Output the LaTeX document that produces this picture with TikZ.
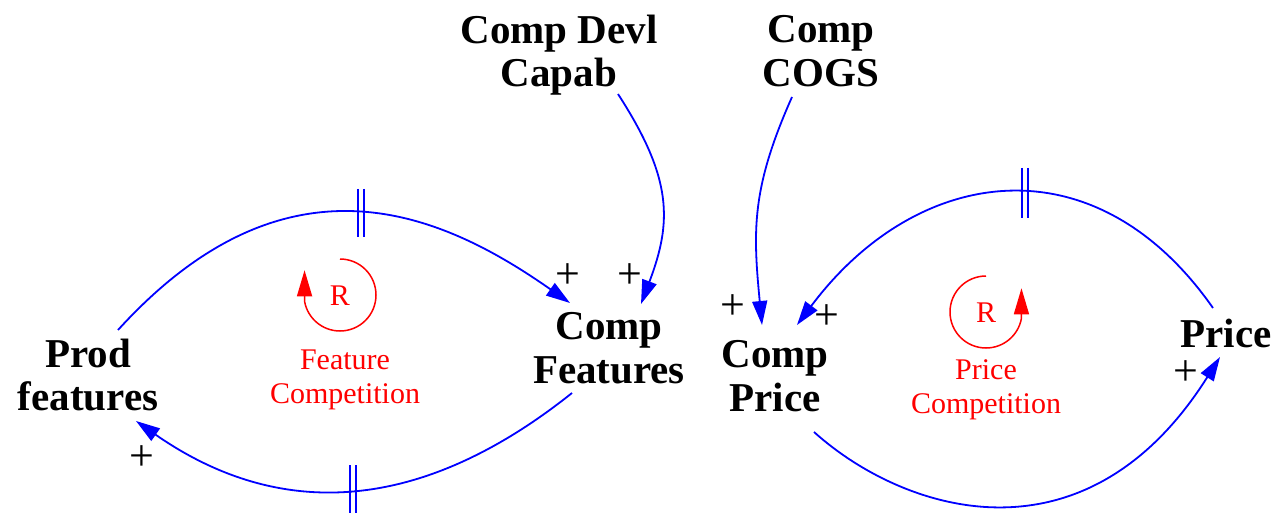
\documentclass[tikz,border=0pt]{standalone}
\usepackage{fontspec}
\setmainfont{Liberation Serif}
\usetikzlibrary{arrows.meta,calc}
\begin{document}
\begin{tikzpicture}[x=1pt,y=-1pt,
  var/.style={font=\fontsize{41}{43.5}\selectfont\bfseries, align=center, inner sep=0pt},
  link/.style={blue, line width=1.8pt, -{Triangle[length=24pt,width=15pt]}},
  delaymark/.style={blue, line width=1.5pt},
  pol/.style={font=\fontsize{44}{46}\selectfont, inner sep=0pt},
  loopname/.style={red, font=\fontsize{30}{34}\selectfont, align=center, inner sep=0pt},
  looparc/.style={red, line width=1.5pt, -{Triangle[length=26pt,width=15pt]}}
]
\useasboundingbox (0,0) rectangle (1280,513);

% variables
\node[var] (devl) at (559,55) {Comp Devl\\Capab};
\node[var] (cogs) at (821,51) {Comp\\COGS};
\node[var] (prod) at (88,375) {Prod\\features};
\node[var] (cf) at (609,348) {Comp\\Features};
\node[var] (cp) at (775,376) {Comp\\Price};
\node[var] (price) at (1226,333) {Price};

% links
\draw[link] ($(prod)+(30,-45)$) .. controls (288,143) and (443,214) .. ($(cf)+(-39,-45)$);
\draw[link] ($(cf)+(-37,45)$) .. controls (419,515) and (278,520) .. ($(prod)+(48,46)$);
\draw[link] ($(devl)+(59,39)$) .. controls (673,179) and (672,222) .. ($(cf)+(32,-44)$);
\draw[link] ($(cogs)+(-29,46)$) .. controls (751,189) and (753,231) .. ($(cp)+(-13,-51)$);
\draw[link] ($(price)+(-13,-25)$) .. controls (1094,138) and (916,166) .. ($(cp)+(22,-51)$);
\draw[link] ($(cp)+(39,56)$) .. controls (903.5,512.5) and (1085,571) .. ($(price)+(-6,24)$);

% delay marks
\draw[delaymark] (358,189) -- (358,237) (364,189) -- (364,237);
\draw[delaymark] (350,465) -- (350,513) (356,465) -- (356,513);
\draw[delaymark] (1022,168) -- (1022,218) (1028,168) -- (1028,218);

% polarities
\node[pol] (p1) at (568,276) {+};
\node[pol] (p2) at (630,276) {+};
\node[pol] (p3) at (733,307) {+};
\node[pol] (p4) at (827,317) {+};
\node[pol] (p5) at (142,458) {+};
\node[pol] (p6) at (1186,373) {+};

% loops
\node[loopname] (rL) at (340,296) {R};
\draw[looparc] ($(rL)+(0,-37)$) arc[start angle=270, end angle=530, radius=36] -- ++(0,-31);
\node[loopname] (nL) at (345,380) {Feature\\Competition};

\node[loopname] (rR) at (986,313) {R};
\draw[looparc] ($(rR)+(0,-37)$) arc[start angle=270, end angle=10, radius=36] -- ++(0,-30);
\node[loopname] (nR) at (986,390) {Price\\Competition};
\end{tikzpicture}
\end{document}
